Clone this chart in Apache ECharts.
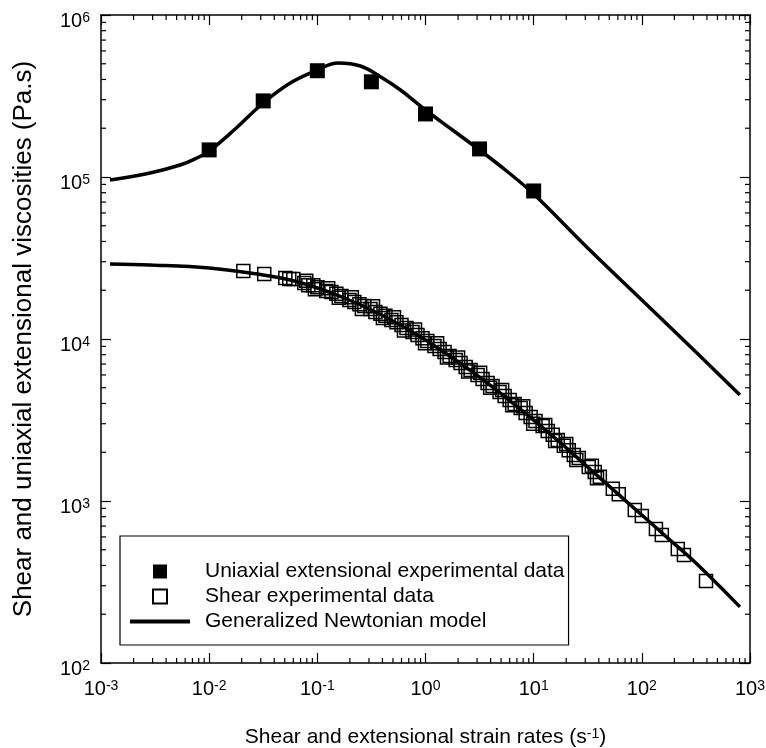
<!DOCTYPE html>
<html>
<head>
<meta charset="utf-8">
<title>Shear and uniaxial extensional viscosities</title>
<script src="https://cdn.jsdelivr.net/npm/echarts@6/dist/echarts.min.js"></script>
<style>
  html, body { margin: 0; padding: 0; background: #fff; }
  #chart { width: 766px; height: 748px; }
</style>
</head>
<body>
<div id="chart"></div>
<script>
// uniaxial extensional experimental data (filled squares)
const extRate = [0.01, 0.0316, 0.1, 0.316, 1, 3.16, 10];
const extVisc = [147000, 295000, 453000, 387000, 245000, 149000, 82000];

// shear experimental data (open squares), clusters read left to right
const shearRate = [
  0.0207, 0.0323,
  0.0506, 0.0550, 0.0600,
  0.0758, 0.0825, 0.0918, 0.100,
  0.121, 0.135, 0.150, 0.167,
  0.198, 0.220, 0.245, 0.272,
  0.310, 0.344, 0.383, 0.426,
  0.484, 0.539, 0.600, 0.667,
  0.758, 0.843, 0.938, 1.04,
  1.21, 1.35, 1.50, 1.67,
  1.90, 2.11, 2.35, 2.61,
  3.03, 3.37, 3.75, 4.17,
  4.84, 5.39, 6.00, 6.67,
  7.58, 8.43, 9.38, 10.4,
  12.1, 13.5, 15.0, 16.7,
  19.0, 21.1, 23.5, 26.1,
  32.3, 36.7, 40.9,
  53.9, 61.2,
  86.1, 100,
  135, 153,
  215, 245,
  392,
  // extra overlapping squares inside the clusters
  0.079, 0.095, 0.126, 0.158, 0.208, 0.258, 0.327, 0.404,
  0.511, 0.632, 0.80, 0.99, 1.28, 1.58, 2.00, 2.48,
  3.20, 3.96, 5.11, 6.33, 8.0, 9.9, 12.8, 15.8,
  20.0, 24.8, 34.5, 38.5
];
const shearVisc = [
  26300, 25200,
  23800, 23500, 23500,
  22200, 21500, 21500, 20900,
  19800, 19500, 19000, 18400,
  17400, 16900, 16400, 16000,
  15300, 14700, 14300, 13900,
  13100, 12700, 12200, 11700,
  11050, 10600, 10100, 9720,
  9050, 8680, 8310, 7860,
  7420, 7110, 6720, 6440,
  6000, 5660, 5350, 5130,
  4710, 4450, 4200, 3970,
  3750, 3490, 3300, 3120,
  2900, 2700, 2560, 2380,
  2190, 2060, 1920, 1840,
  1620, 1510, 1410,
  1190, 1100,
  880, 808,
  672, 617,
  505, 464,
  321,
  22900, 20300, 20600, 18000, 18100, 15300, 15900, 13500,
  13600, 11300, 11450, 9400, 9400, 7700, 7700, 6300,
  6200, 5000, 4850, 3900, 3850, 3000, 2950, 2350,
  2250, 1790, 1650, 1380
];

// generalized Newtonian model
const modelExtRate = [0.00121, 0.00284, 0.00538, 0.00742, 0.01, 0.0178, 0.0316, 0.0562, 0.1, 0.156, 0.25, 0.383, 0.587, 1, 1.778, 3.16, 5.62, 10, 31.6, 100, 316, 807];
const modelExtVisc = [95800, 105900, 118600, 129500, 144600, 200600, 286300, 380500, 457400, 505400, 484200, 416000, 344400, 259200, 195000, 146800, 108900, 78500, 36450, 17400, 8310, 4510];
const modelShearRate = [0.00121, 0.00284, 0.01, 0.0316, 0.0562, 0.1, 0.178, 0.316, 0.562, 1, 1.778, 3.16, 5.62, 10, 17.8, 31.6, 56.2, 100, 178, 316, 807];
const modelShearVisc = [29040, 28640, 27420, 24830, 23130, 20650, 17910, 15100, 12380, 9860, 7640, 5820, 4320, 3160, 2280, 1620, 1150, 820, 582, 414, 222];

// axis ranges and minor tick positions (2..9 in each decade)
const xRange = [0.001, 1000];
const yRange = [100, 1000000];
const tickMult = [2, 3, 4, 5, 6, 7, 8, 9];
const xDecades = [0.001, 0.01, 0.1, 1, 10, 100];
const yDecades = [100, 1000, 10000, 100000];

const FONT = '"Liberation Sans", Arial, sans-serif';
const SQUARE = 'path://M0,0L10,0L10,10L0,10Z';
const BAR = 'path://M0,0L60,0L60,4L0,4Z';
const zip = (a, b) => a.map((v, i) => [v, b[i]]);

const xMinor = [];
xDecades.forEach(d => tickMult.forEach(m => xMinor.push([d * m, 1000])));
const yMinor = [];
yDecades.forEach(d => tickMult.forEach(m => yMinor.push([1, d * m])));

const powerLabel = (value) => {
  const e = Math.round(Math.log10(value));
  return '{b|10}{s|' + e + '}';
};
const labelRich = {
  b: { fontFamily: FONT, fontSize: 20, color: '#000' },
  s: { fontFamily: FONT, fontSize: 14, color: '#000', verticalAlign: 'top' }
};

const tickLine = (x1, y1, x2, y2) => ({
  type: 'line',
  shape: { x1, y1, x2, y2 },
  style: { stroke: '#000', lineWidth: 1.2 }
});

const chart = echarts.init(document.getElementById('chart'), null, { renderer: 'canvas' });

chart.setOption({
  backgroundColor: '#fff',
  animation: false,
  grid: { left: 101, top: 15, right: 16, bottom: 85, outerBoundsMode: 'none', containLabel: false },
  legend: {
    left: 120,
    top: 536,
    orient: 'vertical',
    selectedMode: false,
    symbolKeepAspect: true,
    data: [
      { name: 'Uniaxial extensional experimental data', icon: SQUARE },
      { name: 'Shear experimental data', icon: SQUARE },
      { name: 'Generalized Newtonian model', icon: BAR }
    ],
    itemWidth: 60,
    itemHeight: 14,
    itemGap: 0,
    padding: [23, 4, 11, 10],
    borderColor: '#000',
    borderWidth: 1.2,
    textStyle: { fontFamily: FONT, fontSize: 21, color: '#000', lineHeight: 25, padding: [0, 0, 0, 10] }
  },
  xAxis: [
    {
      type: 'log',
      min: xRange[0],
      max: xRange[1],
      splitNumber: 6,
      name: '{t|Shear and extensional strain rates (s}{u|-1}{t|)}',
      nameLocation: 'middle',
      nameGap: 64,
      nameTextStyle: {
        rich: {
          t: { fontFamily: FONT, fontSize: 21, color: '#000' },
          u: { fontFamily: FONT, fontSize: 14, color: '#000', verticalAlign: 'top' }
        }
      },
      axisLine: { lineStyle: { color: '#000', width: 1.5 } },
      axisTick: { inside: true, length: 10, lineStyle: { color: '#000', width: 1.2 } },
      axisLabel: { margin: 16, formatter: powerLabel, rich: labelRich },
      splitLine: { show: false }
    },
    {
      type: 'log',
      position: 'top',
      min: xRange[0],
      max: xRange[1],
      splitNumber: 6,
      axisLine: { lineStyle: { color: '#000', width: 1.5 } },
      axisTick: { inside: true, length: 10, lineStyle: { color: '#000', width: 1.2 } },
      axisLabel: { show: false },
      splitLine: { show: false }
    }
  ],
  yAxis: [
    {
      type: 'log',
      min: yRange[0],
      max: yRange[1],
      splitNumber: 4,
      name: 'Shear and uniaxial extensional viscosities (Pa.s)',
      nameLocation: 'middle',
      nameGap: 64,
      nameTextStyle: { fontFamily: FONT, fontSize: 26, color: '#000' },
      axisLine: { lineStyle: { color: '#000', width: 1.5 } },
      axisTick: { inside: true, length: 10, lineStyle: { color: '#000', width: 1.2 } },
      axisLabel: { margin: 11, padding: [12, 0, 0, 0], formatter: powerLabel, rich: labelRich },
      splitLine: { show: false }
    },
    {
      type: 'log',
      position: 'right',
      min: yRange[0],
      max: yRange[1],
      splitNumber: 4,
      axisLine: { lineStyle: { color: '#000', width: 1.5 } },
      axisTick: { inside: true, length: 10, lineStyle: { color: '#000', width: 1.2 } },
      axisLabel: { show: false },
      splitLine: { show: false }
    }
  ],
  series: [
    {
      name: 'Generalized Newtonian model',
      type: 'line',
      data: zip(modelExtRate, modelExtVisc),
      symbol: 'none',
      smooth: 0.4,
      lineStyle: { color: '#000', width: 3.5 },
      itemStyle: { color: '#000' },
      z: 2
    },
    {
      name: 'Generalized Newtonian model',
      type: 'line',
      data: zip(modelShearRate, modelShearVisc),
      symbol: 'none',
      smooth: 0.4,
      lineStyle: { color: '#000', width: 3.5 },
      itemStyle: { color: '#000' },
      z: 2
    },
    {
      name: 'Uniaxial extensional experimental data',
      type: 'scatter',
      data: zip(extRate, extVisc),
      symbol: 'rect',
      symbolSize: 15,
      itemStyle: { color: '#000', opacity: 1 },
      z: 3
    },
    {
      name: 'Shear experimental data',
      type: 'scatter',
      data: zip(shearRate, shearVisc),
      symbol: 'rect',
      symbolSize: 13,
      itemStyle: { color: 'rgba(0,0,0,0)', borderColor: '#000', borderWidth: 1.5, opacity: 1 },
      z: 3
    },
    {
      type: 'custom',
      silent: true,
      data: xMinor,
      encode: { x: 0, y: 1 },
      renderItem: (params, api) => {
        const cs = params.coordSys;
        const px = api.coord([api.value(0), api.value(1)])[0];
        return {
          type: 'group',
          children: [
            tickLine(px, cs.y + cs.height, px, cs.y + cs.height - 5),
            tickLine(px, cs.y, px, cs.y + 5)
          ]
        };
      },
      z: 4
    },
    {
      type: 'custom',
      silent: true,
      data: yMinor,
      encode: { x: 0, y: 1 },
      renderItem: (params, api) => {
        const cs = params.coordSys;
        const py = api.coord([api.value(0), api.value(1)])[1];
        return {
          type: 'group',
          children: [
            tickLine(cs.x, py, cs.x + 5, py),
            tickLine(cs.x + cs.width, py, cs.x + cs.width - 5, py)
          ]
        };
      },
      z: 4
    }
  ]
});
</script>
</body>
</html>
